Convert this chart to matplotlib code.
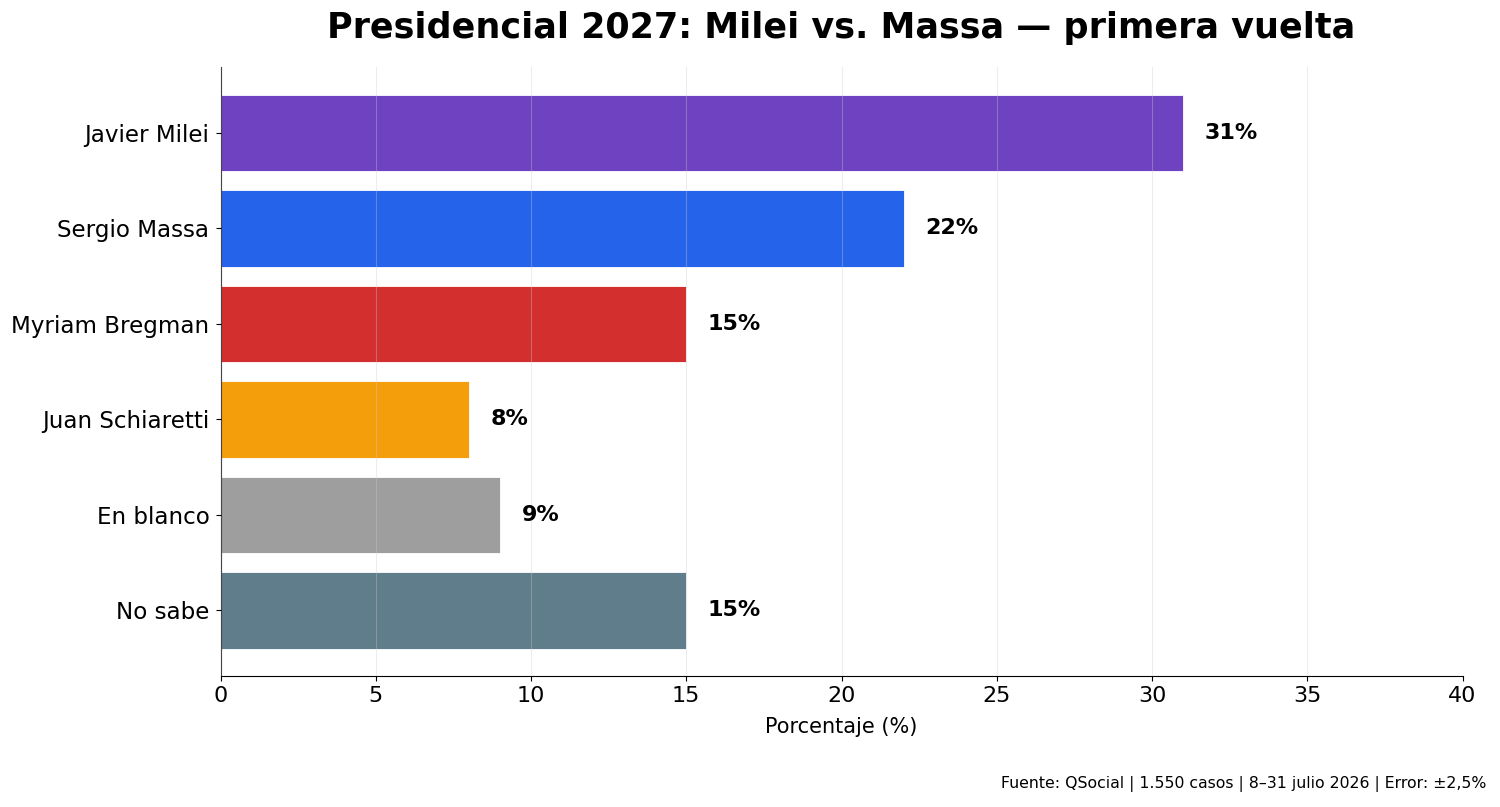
import numpy as np
import matplotlib
matplotlib.use("Agg")
import matplotlib.pyplot as plt

candidates = ["Javier Milei", "Sergio Massa", "Myriam Bregman", "Juan Schiaretti", "En blanco", "No sabe"]
values = [31, 22, 15, 8, 9, 15]
colors = ["#6f42c1", "#2563eb", "#d32f2f", "#f59e0b", "#9e9e9e", "#607d8b"]

fig, ax = plt.subplots(figsize=(15, 8.07), dpi=100)
fig.subplots_adjust(left=0.147, right=0.975, top=0.917, bottom=0.162)

y = np.arange(len(candidates))
ax.barh(y, values, color=colors, height=0.8, edgecolor="white", linewidth=0.6, zorder=2)
ax.set_yticks(y)
ax.set_yticklabels(candidates, fontsize=16.6)
ax.tick_params(axis="y", pad=4.5)
ax.invert_yaxis()

for yi, v in zip(y, values):
    ax.text(v + 0.7, yi, f"{v}%", va="center", ha="left", fontsize=16, fontweight="bold")

ax.set_xlim(0, 40)
ax.set_xticks(range(0, 41, 5))
ax.tick_params(axis="x", labelsize=16)
ax.set_xlabel("Porcentaje (%)", fontsize=15, labelpad=8)
ax.set_title("Presidencial 2027: Milei vs. Massa — primera vuelta", fontsize=25.2, fontweight="bold", pad=21)

ax.grid(axis="x", color="#cccccc", alpha=0.35, zorder=3)
ax.set_axisbelow(False)
ax.spines["top"].set_visible(False)
ax.spines["right"].set_visible(False)

fig.text(0.991, 0.018, "Fuente: QSocial | 1.550 casos | 8–31 julio 2026 | Error: ±2,5%",
         ha="right", va="bottom", fontsize=11.3)

plt.savefig("out.png")
